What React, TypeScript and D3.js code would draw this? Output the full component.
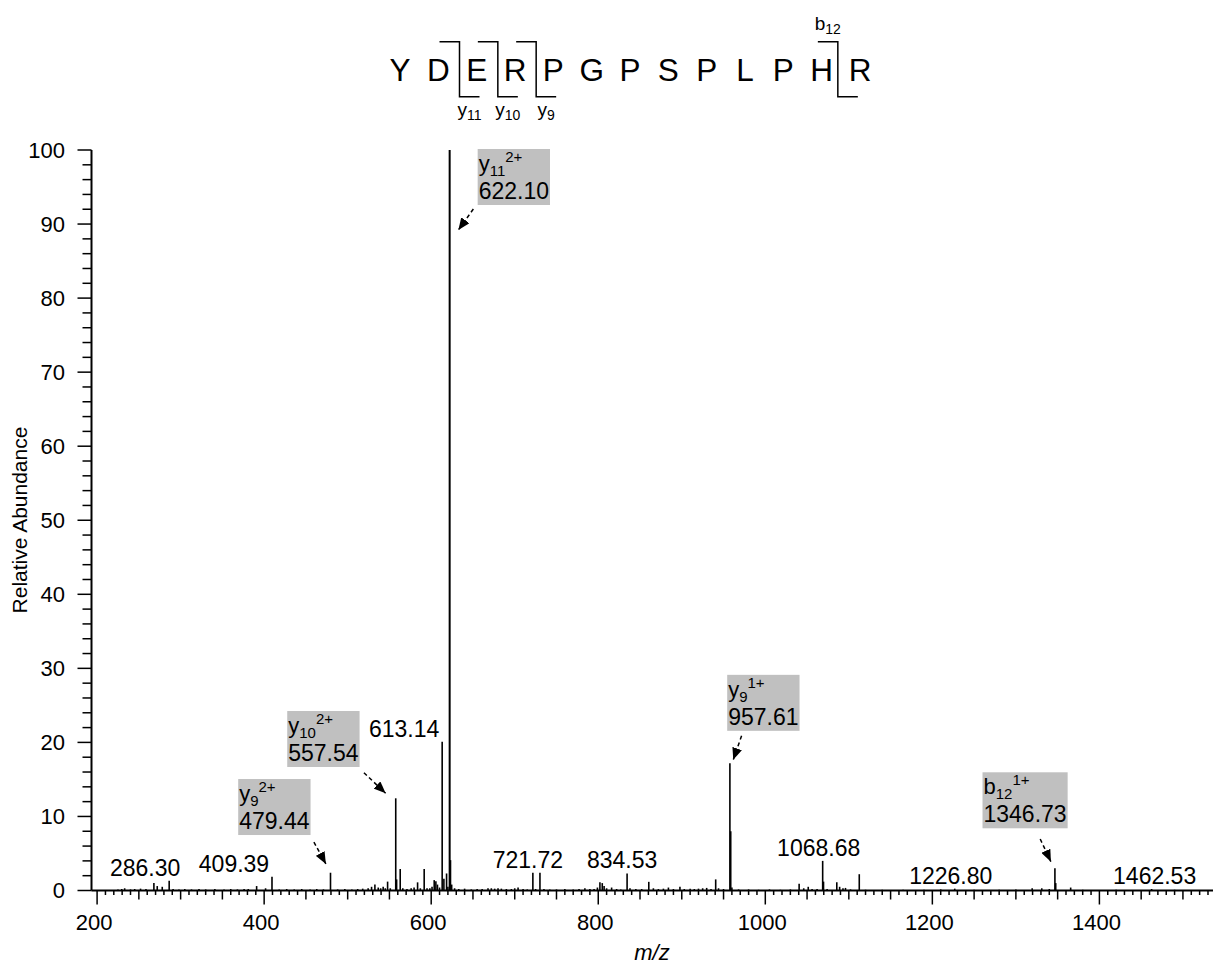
import * as d3 from "d3";

// spectrum peaks (m/z, relative abundance)
const peakMz = [
  225.0, 229.5, 233.0, 240.0, 245.0, 252.0, 258.5, 268.0, 272.0, 278.0, 286.3, 291.0, 298.0,
  305.0, 313.0, 322.0, 330.0, 341.0, 352.0, 360.0, 368.0, 376.0, 381.0, 391.0, 401.7, 409.39,
  418.0, 427.0, 436.0, 445.0, 455.0, 463.0, 471.0, 479.44, 488.0, 496.6, 505.0, 512.0, 518.0,
  524.5, 528.6, 532.6, 536.6, 539.5, 542.5, 545.0, 547.8, 551.0, 557.54, 558.6, 562.9, 566.0,
  571.0, 576.0, 579.5, 583.7, 587.0, 591.6, 595.0, 598.4, 601.0, 603.6, 605.6, 607.5, 610.0,
  613.14, 615.2, 618.4, 620.0, 622.1, 623.1, 624.5, 628.0, 633.0, 640.0, 648.0, 655.0, 661.0,
  668.0, 672.0, 676.0, 680.0, 684.0, 690.0, 696.0, 700.0, 704.0, 710.0, 715.0, 721.72, 725.0,
  730.2, 735.0, 742.0, 750.0, 760.0, 770.0, 777.0, 784.0, 790.0, 795.0, 799.0, 802.0, 804.8,
  807.0, 810.0, 816.0, 822.0, 827.0, 834.53, 838.0, 845.0, 852.0, 860.5, 866.0, 872.0, 878.0,
  884.0, 890.0, 897.8, 903.0, 910.0, 915.0, 920.0, 925.0, 929.8, 935.0, 940.6, 944.0, 950.0,
  957.61, 958.6, 960.0, 968.0, 980.0, 992.0, 1005.0, 1018.0, 1030.0, 1040.5, 1046.0, 1051.4,
  1056.0, 1062.0, 1068.68, 1069.7, 1074.0, 1085.6, 1089.0, 1093.0, 1096.0, 1102.0, 1112.5,
  1120.0, 1140.0, 1165.0, 1190.0, 1210.0, 1226.8, 1250.0, 1280.0, 1300.0, 1319.5, 1331.0,
  1340.0, 1346.73, 1347.7, 1365.6, 1380.0, 1420.0, 1462.53, 1490.0,
];
const peakAbundance = [
  0.15, 0.2, 0.3, 0.15, 0.2, 0.25, 0.2, 1.0, 0.6, 0.5, 1.3, 0.2, 0.15,
  0.2, 0.15, 0.2, 0.15, 0.2, 0.15, 0.2, 0.15, 0.2, 0.2, 0.6, 0.3, 1.85,
  0.15, 0.2, 0.15, 0.2, 0.15, 0.2, 0.15, 2.4, 0.15, 0.2, 0.15, 0.2, 0.25,
  0.3, 0.5, 0.8, 0.4, 0.3, 0.5, 0.3, 1.2, 0.3, 12.45, 1.5, 2.9, 0.3,
  0.2, 0.3, 0.4, 1.1, 0.3, 2.9, 0.3, 0.3, 0.5, 1.4, 1.26, 0.8, 0.4,
  20.1, 1.6, 2.3, 0.5, 100, 4.1, 0.8, 0.3, 0.2, 0.25, 0.15, 0.2, 0.2,
  0.3, 0.3, 0.25, 0.3, 0.25, 0.2, 0.2, 0.3, 0.4, 0.2, 0.15, 2.4, 0.2,
  2.4, 0.2, 0.15, 0.15, 0.2, 0.15, 0.2, 0.3, 0.2, 0.2, 0.4, 1.1, 1.0,
  0.6, 0.3, 0.4, 0.2, 0.15, 2.3, 0.3, 0.2, 0.2, 1.17, 0.3, 0.2, 0.25,
  0.4, 0.2, 0.5, 0.2, 0.25, 0.2, 0.25, 0.3, 0.35, 0.2, 1.5, 0.3, 0.2,
  17.2, 8.0, 0.4, 0.15, 0.15, 0.1, 0.15, 0.1, 0.15, 0.9, 0.3, 0.5,
  0.2, 0.2, 4.0, 1.2, 0.2, 1.1, 0.5, 0.3, 0.35, 0.15, 2.2,
  0.1, 0.1, 0.1, 0.1, 0.15, 0.25, 0.1, 0.1, 0.15, 0.3, 0.3,
  0.2, 3.0, 1.0, 0.4, 0.1, 0.1, 0.2, 0.1,
];

// plain peak labels
const labeledMz = [286.3, 409.39, 613.14, 721.72, 834.53, 1068.68, 1226.8, 1462.53];
const labelShift = [-24, -38, -38, -5, -5, -4, -4, 3];

// annotated fragment ions
const ionMz = [479.44, 557.54, 622.1, 957.61, 1346.73];
const ionType = ["y", "y", "y", "y", "b"];
const ionIndex = ["9", "10", "11", "9", "12"];
const ionCharge = ["2+", "2+", "2+", "1+", "1+"];
// box / arrow placement relative to peak top
const ionLayout = [
  { dx: -92.3, dy: -93.7, x1: -16.6, y1: -30.7, x2: -4.6, y2: -8.7 },
  { dx: -108.5, dy: -87.3, x1: -31.8, y1: -25.6, x2: -10.1, y2: -5 },
  { dx: 28, dy: -1, x1: 23.7, y1: 59, x2: 8.7, y2: 80 },
  { dx: -2.7, dy: -88.3, x1: 11.7, y1: -27.3, x2: 3.3, y2: -3.3 },
  { dx: -72.4, dy: -96, x1: -14.7, y1: -29.3, x2: -4, y2: -6.6 },
];

// peptide sequence and cleavage marks
const sequence = ["Y", "D", "E", "R", "P", "G", "P", "S", "P", "L", "P", "H", "R"];
const cleaveAfter = [2, 3, 4, 12];
const cleaveType = ["y", "y", "y", "b"];
const cleaveIndex = ["11", "10", "9", "12"];

const xTicks = [200, 400, 600, 800, 1000, 1200, 1400];
const yTicks = [0, 10, 20, 30, 40, 50, 60, 70, 80, 90, 100];

const W = 1217;
const H = 965;
const FONT = "'Liberation Sans', Arial, Helvetica, sans-serif";

const x = d3.scaleLinear().domain([193.3, 1536]).range([91.5, 1213]);
const y = d3.scaleLinear().domain([0, 100]).range([890.5, 150]);
const seqX = d3.scaleLinear().domain([0, 12]).range([400, 860]);

const abundanceAt = (mz: number) => peakAbundance[peakMz.indexOf(mz)];

function textWidth(s: string, size: number) {
  const ctx = document.createElement("canvas").getContext("2d");
  if (!ctx) return s.length * size * 0.53;
  ctx.font = `${size}px ${FONT}`;
  return ctx.measureText(s).width;
}

export default function App() {
  const minorX = d3.range(200, 1536, 10);
  const minorY = d3.range(0, 101, 2);
  const baseY = y(0);

  return (
    <div style={{ position: "absolute", left: 0, top: 0 }}>
      <svg width={W} height={H} style={{ display: "block", background: "#fff" }} fontFamily={FONT}>
        <defs>
          <marker id="head" markerUnits="userSpaceOnUse" markerWidth={12} markerHeight={10}
            refX={12} refY={5} orient="auto">
            <path d="M0,0 L12,5 L0,10 z" fill="#000" />
          </marker>
        </defs>

        {/* peptide sequence */}
        {sequence.map((aa, i) => (
          <text key={"aa" + i} x={seqX(i)} y={81} fontSize={31.5} textAnchor="middle">{aa}</text>
        ))}
        {cleaveAfter.map((k, i) => {
          const isY = cleaveType[i] === "y";
          const cx = (seqX(k - 1) + seqX(k)) / 2 + (isY ? 2 : -3);
          const top = 41.7, bot = 96.7, arm = 20;
          return (
            <g key={"cl" + i}>
              <path d={`M${cx - arm},${top} H${cx} V${bot} H${cx + arm}`} fill="none"
                stroke="#000" strokeWidth={1.5} />
              <text x={isY ? cx + arm / 2 : cx - arm / 2} y={isY ? 116 : 30} fontSize={19}
                textAnchor="middle">
                {cleaveType[i]}
                <tspan fontSize={14} dy={4}>{cleaveIndex[i]}</tspan>
              </text>
            </g>
          );
        })}

        {/* peaks */}
        {peakMz.map((mz, i) => (
          <line key={"pk" + i} x1={x(mz)} x2={x(mz)} y1={baseY} y2={y(peakAbundance[i])}
            stroke="#000" strokeWidth={mz === 622.1 ? 2 : 1.6} />
        ))}

        {/* axes */}
        <line x1={x.range()[0]} x2={x.range()[1]} y1={baseY} y2={baseY} stroke="#000" strokeWidth={2} />
        <line x1={x.range()[0]} x2={x.range()[0]} y1={baseY} y2={y(100)} stroke="#000" strokeWidth={2} />
        {minorX.map((v) => {
          const len = v % 200 === 0 ? 14 : v % 50 === 0 ? 9 : 4.5;
          return <line key={"xt" + v} x1={x(v)} x2={x(v)} y1={baseY} y2={baseY + len} stroke="#000" strokeWidth={1.5} />;
        })}
        {xTicks.map((v) => (
          <text key={"xl" + v} x={x(v) - 3} y={930} fontSize={22} textAnchor="middle">{v}</text>
        ))}
        {minorY.map((v) => {
          const len = v % 10 === 0 ? 14 : 9;
          return <line key={"yt" + v} x1={x.range()[0] - len} x2={x.range()[0]} y1={y(v)} y2={y(v)} stroke="#000" strokeWidth={1.5} />;
        })}
        {yTicks.map((v) => (
          <text key={"yl" + v} x={65} y={y(v)} dy="0.35em" fontSize={22} textAnchor="end">{v}</text>
        ))}
        <text transform="translate(27,520) rotate(-90)" fontSize={21} textAnchor="middle">Relative Abundance</text>
        <text x={652} y={960} fontSize={22} fontStyle="italic" textAnchor="middle">m/z</text>

        {/* plain labels */}
        {labeledMz.map((mz, i) => (
          <text key={"lb" + i} x={x(mz) + labelShift[i]} y={y(abundanceAt(mz)) - 5}
            fontSize={23} textAnchor="middle">{mz.toFixed(2)}</text>
        ))}

        {/* annotated ions */}
        {ionMz.map((mz, i) => {
          const px = x(mz), py = y(abundanceAt(mz));
          const L = ionLayout[i];
          const bx = px + L.dx, by = py + L.dy;
          const label = mz.toFixed(2);
          const bw = textWidth(label, 23) + 2;
          return (
            <g key={"ion" + i}>
              <rect x={bx} y={by} width={bw} height={56} fill="#c0c0c0" />
              <text x={bx + 1} y={by + 22} fontSize={22}>
                {ionType[i]}
                <tspan fontSize={15} dy={5}>{ionIndex[i]}</tspan>
                <tspan fontSize={15} dy={-14}>{ionCharge[i]}</tspan>
              </text>
              <text x={bx + 1} y={by + 50} fontSize={23}>{label}</text>
              <line x1={px + L.x1} y1={py + L.y1} x2={px + L.x2} y2={py + L.y2} stroke="#000"
                strokeWidth={1.5} strokeDasharray="4 3" markerEnd="url(#head)" />
            </g>
          );
        })}
      </svg>
    </div>
  );
}
